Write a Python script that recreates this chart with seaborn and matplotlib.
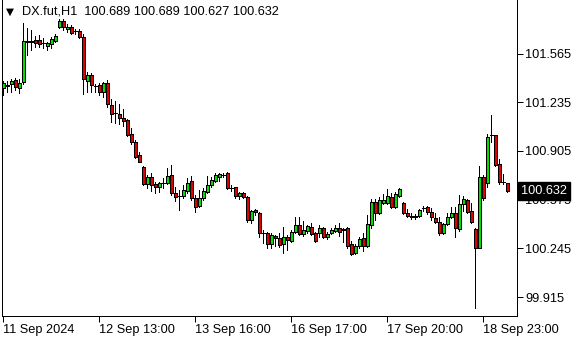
import numpy as np
import pandas as pd
import matplotlib
matplotlib.use("Agg")
import matplotlib.pyplot as plt
import matplotlib.transforms as mtransforms
import seaborn as sns

symbol = "DX.fut,H1"

opens = [
    101.332, 101.345, 101.359, 101.386, 101.332, 101.372, 101.650, 101.643, 101.657, 101.657,
    101.637, 101.616, 101.630, 101.650, 101.745, 101.786, 101.732, 101.745, 101.718, 101.718,
    101.677, 101.379, 101.420, 101.345, 101.352, 101.305, 101.366, 101.217, 101.162, 101.156,
    101.129, 101.115, 101.020, 100.966, 100.878, 100.797, 100.681, 100.729, 100.681, 100.661,
    100.688, 100.688, 100.742, 100.620, 100.600, 100.600, 100.634, 100.702, 100.587, 100.532,
    100.587, 100.627, 100.675, 100.702, 100.729, 100.742, 100.756, 100.654, 100.661, 100.600,
    100.620, 100.593, 100.437, 100.505, 100.485, 100.349, 100.349, 100.275, 100.329, 100.316,
    100.275, 100.322, 100.295, 100.356, 100.404, 100.343, 100.363, 100.390, 100.349, 100.349,
    100.383, 100.322, 100.349, 100.363, 100.383, 100.377, 100.383, 100.275, 100.214, 100.261,
    100.316, 100.261, 100.404, 100.559, 100.485, 100.553, 100.553, 100.593, 100.526, 100.600,
    100.553, 100.485, 100.465, 100.461, 100.465, 100.519, 100.526, 100.492, 100.451, 100.424,
    100.349, 100.410, 100.458, 100.485, 100.377, 100.546, 100.573, 100.498, 100.377, 100.248,
    100.729, 100.688, 101.013, 101.013, 100.817, 100.695, 100.689]

highs = [
    101.379, 101.379, 101.393, 101.400, 101.393, 101.772, 101.738, 101.725, 101.684, 101.691,
    101.671, 101.643, 101.677, 101.698, 101.799, 101.799, 101.765, 101.759, 101.732, 101.732,
    101.698, 101.440, 101.433, 101.359, 101.366, 101.372, 101.386, 101.257, 101.244, 101.223,
    101.190, 101.122, 101.061, 100.979, 100.898, 100.803, 100.742, 100.756, 100.695, 100.695,
    100.722, 100.790, 100.810, 100.661, 100.641, 100.675, 100.722, 100.736, 100.607, 100.641,
    100.654, 100.736, 100.729, 100.756, 100.756, 100.756, 100.760, 100.675, 100.663, 100.627,
    100.627, 100.600, 100.505, 100.512, 100.492, 100.370, 100.356, 100.349, 100.336, 100.349,
    100.390, 100.336, 100.370, 100.458, 100.458, 100.431, 100.404, 100.417, 100.356, 100.404,
    100.390, 100.356, 100.383, 100.404, 100.417, 100.383, 100.390, 100.295, 100.275, 100.322,
    100.349, 100.471, 100.580, 100.580, 100.593, 100.614, 100.648, 100.620, 100.627, 100.654,
    100.559, 100.512, 100.485, 100.478, 100.512, 100.532, 100.532, 100.519, 100.485, 100.458,
    100.417, 100.485, 100.526, 100.526, 100.607, 100.600, 100.580, 100.553, 100.380, 100.803,
    100.742, 101.020, 101.149, 101.015, 100.851, 100.749, 100.689]

lows = [
    101.284, 101.305, 101.305, 101.318, 101.298, 101.359, 101.555, 101.589, 101.610, 101.610,
    101.603, 101.589, 101.603, 101.643, 101.738, 101.725, 101.711, 101.698, 101.698, 101.671,
    101.291, 101.305, 101.305, 101.305, 101.284, 101.271, 101.203, 101.101, 101.095, 101.088,
    101.074, 101.007, 100.952, 100.858, 100.830, 100.675, 100.654, 100.634, 100.620, 100.627,
    100.654, 100.681, 100.607, 100.566, 100.505, 100.587, 100.620, 100.573, 100.492, 100.526,
    100.573, 100.620, 100.661, 100.695, 100.702, 100.729, 100.648, 100.634, 100.587, 100.580,
    100.587, 100.424, 100.417, 100.471, 100.322, 100.282, 100.248, 100.248, 100.261, 100.255,
    100.214, 100.234, 100.288, 100.349, 100.336, 100.329, 100.349, 100.336, 100.288, 100.322,
    100.316, 100.309, 100.343, 100.356, 100.329, 100.288, 100.248, 100.200, 100.207, 100.248,
    100.227, 100.255, 100.383, 100.437, 100.478, 100.546, 100.546, 100.520, 100.520, 100.593,
    100.478, 100.458, 100.444, 100.444, 100.458, 100.498, 100.478, 100.437, 100.417, 100.336,
    100.343, 100.404, 100.451, 100.322, 100.363, 100.498, 100.485, 100.420, 99.841, 100.245,
    100.573, 100.661, 100.966, 100.805, 100.681, 100.681, 100.627]

closes = [
    101.366, 101.349, 101.376, 101.339, 101.366, 101.650, 101.643, 101.650, 101.637, 101.630,
    101.635, 101.637, 101.664, 101.684, 101.786, 101.745, 101.745, 101.704, 101.715, 101.677,
    101.393, 101.420, 101.352, 101.343, 101.305, 101.366, 101.223, 101.156, 101.160, 101.129,
    101.108, 101.013, 100.966, 100.864, 100.830, 100.681, 100.729, 100.675, 100.661, 100.688,
    100.685, 100.736, 100.620, 100.593, 100.597, 100.641, 100.688, 100.587, 100.526, 100.587,
    100.634, 100.675, 100.708, 100.742, 100.746, 100.744, 100.654, 100.652, 100.600, 100.620,
    100.593, 100.437, 100.498, 100.492, 100.349, 100.347, 100.275, 100.336, 100.316, 100.268,
    100.322, 100.302, 100.356, 100.404, 100.343, 100.370, 100.397, 100.343, 100.295, 100.383,
    100.322, 100.343, 100.370, 100.383, 100.356, 100.373, 100.261, 100.207, 100.261, 100.309,
    100.261, 100.410, 100.559, 100.485, 100.573, 100.573, 100.600, 100.526, 100.614, 100.648,
    100.485, 100.465, 100.461, 100.465, 100.505, 100.516, 100.492, 100.458, 100.424, 100.349,
    100.410, 100.458, 100.485, 100.383, 100.546, 100.580, 100.492, 100.424, 100.248, 100.729,
    100.587, 101.000, 101.010, 100.810, 100.695, 100.692, 100.632]

time_labels = ["11 Sep 2024", "12 Sep 13:00", "13 Sep 16:00",
               "16 Sep 17:00", "17 Sep 20:00", "18 Sep 23:00"]
time_label_bars = [0, 24, 48, 72, 96, 120]
price_ticks = [99.915, 100.245, 100.575, 100.905, 101.235, 101.565]

df = pd.DataFrame({"open": opens, "high": highs, "low": lows, "close": closes})
df["bar"] = np.arange(len(df))
df["up"] = df["close"] >= df["open"]

sns.set_style("white")
plt.rcParams["font.family"] = ["Liberation Sans", "DejaVu Sans"]

W, H = 580, 340
fig = plt.figure(figsize=(W / 100, H / 100), dpi=100)
L, R, B, T = 2, 517, 316, 0
ax = fig.add_axes([L / W, (H - B) / H, (R - L) / W, (B - T) / H])

BULL = "#00e000"
BEAR = "#e00000"
px = 72 / 100  # one pixel in points
FS = 9.2

ax.vlines(df["bar"], df["low"], df["high"], color="black", linewidth=px,
          antialiased=False, zorder=2)
body_bottom = df[["open", "close"]].min(axis=1)
body_height = (df["close"] - df["open"]).abs()
ax.bar(df["bar"], body_height, bottom=body_bottom, width=0.75,
       color=np.where(df["up"], BULL, BEAR), edgecolor="black",
       linewidth=px, antialiased=False, zorder=3)

ax.set_xlim(-0.25, 128.5)
ax.set_ylim(99.787, 101.928)

ax.spines["top"].set_visible(False)
for side in ["left", "right", "bottom"]:
    ax.spines[side].set_color("black")
    ax.spines[side].set_linewidth(px)

ax.yaxis.tick_right()
ax.set_yticks(price_ticks)
ax.set_yticklabels([f"{v:.3f}" for v in price_ticks])
ax.tick_params(axis="y", which="both", right=True, left=False, length=4,
               width=px, color="black", labelsize=FS, pad=2, labelcolor="black")

ax.set_xticks(time_label_bars)
ax.set_xticklabels(time_labels, ha="left")
ax.tick_params(axis="x", which="both", bottom=True, length=4, width=px,
               color="black", labelsize=FS, pad=2, labelcolor="black")
offset = mtransforms.ScaledTranslation(0 / 100, 0, fig.dpi_scale_trans)
for lab in ax.get_xticklabels():
    lab.set_transform(lab.get_transform() + offset)
ax.grid(False)
ax.set_facecolor("white")

# current price label
last_close = df["close"].iloc[-1]
trans = mtransforms.blended_transform_factory(ax.transAxes, ax.transData)
ax.text(1.0 + 4 / (R - L), last_close, f"{last_close:.3f}", transform=trans,
        ha="left", va="center", color="white", fontsize=FS, zorder=10,
        bbox=dict(boxstyle="square,pad=0.25", facecolor="black", edgecolor="black"),
        clip_on=False)

# header
last = df.iloc[-1]
fig.text(6 / W, 1 - 12 / H, "\u25BC", fontsize=7.5, ha="left", va="center",
         color="black", family=["DejaVu Sans"])
fig.text(22 / W, 1 - 12 / H,
         f"{symbol}  {last['open']:.3f} {last['high']:.3f} {last['low']:.3f} {last['close']:.3f}",
         fontsize=FS, ha="left", va="center", color="black")

fig.savefig("out.png", dpi=100)
